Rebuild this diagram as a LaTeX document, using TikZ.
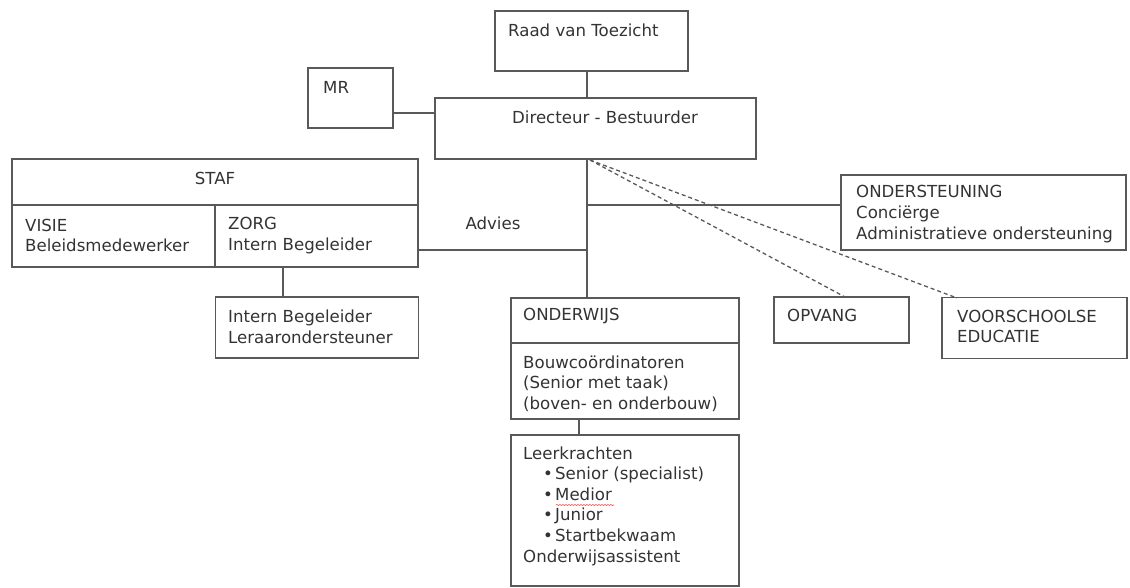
\documentclass[tikz,border=0pt]{standalone}
\usepackage{fontspec}
\setmainfont{DejaVu Sans}
\usetikzlibrary{decorations.pathmorphing}
\newcommand{\fsz}{\fontsize{16.6}{20.6}\selectfont}
\newcommand{\bul}{\hspace*{20pt}\makebox[12pt][l]{•}}
\tikzset{
  box/.style={draw=black!65, line width=1.3pt, inner sep=0pt, minimum width=#1},
  box/.default=10pt,
  txt/.style={inner sep=0pt, align=left, font=\fsz, text=black!80, anchor=west},
  conn/.style={draw=black!65, line width=1.3pt},
  dconn/.style={draw=black!65, line width=1.3pt, dash pattern=on 4pt off 3pt},
}
\begin{document}
\begin{tikzpicture}[x=1pt,y=-1pt]
\useasboundingbox (0,0) rectangle (1130,587);
% boxes (centre, width, height)
\node[box=193pt, minimum height=60pt] (raad) at (591.5,41) {};
\node[box=85pt, minimum height=60pt] (mr) at (350.5,98) {};
\node[box=321pt, minimum height=61pt] (dir) at (595.5,128.5) {};
\node[box=406pt, minimum height=46pt] (staf) at (215,182) {};
\node[box=203pt, minimum height=62pt] (visie) at (113.5,236) {};
\node[box=203pt, minimum height=62pt] (zorg) at (316.5,236) {};
\node[box=203pt, minimum height=61pt] (ib) at (317,327.5) {};
\node[box=228pt, minimum height=45pt] (ondtop) at (625,320.5) {};
\node[box=228pt, minimum height=76pt] (bouw) at (625,381) {};
\node[box=228pt, minimum height=151pt] (leer) at (625,510.5) {};
\node[box=135pt, minimum height=46pt] (opvang) at (841.5,320) {};
\node[box=185pt, minimum height=61pt] (voor) at (1034.5,328) {};
\node[box=285pt, minimum height=75pt] (ondst) at (983.5,212.5) {};
% texts
\node[txt] (traad) at (508,30) {Raad van Toezicht};
\node[txt] (tmr) at (323,87) {MR};
\node[txt, anchor=center] (tdir) at (605,117) {Directeur - Bestuurder};
\node[txt, anchor=center] (tstaf) at (215,178) {STAF};
\node[txt] (tvisie) at (25,235.5) {VISIE\\Beleidsmedewerker};
\node[txt] (tzorg) at (228,235.5) {ZORG\\Intern Begeleider};
\node[txt] (tib) at (228,327) {Intern Begeleider\\Leraarondersteuner};
\node[txt, anchor=center] (tadv) at (493,223) {Advies};
\node[txt] (tond) at (523,316) {ONDERWIJS};
\node[txt] (tbouw) at (523,383.5) {Bouwcoördinatoren\\(Senior met taak)\\(boven- en onderbouw)};
\node[txt] (tleer) at (523,506) {Leerkrachten\\\bul Senior (specialist)\\\bul Medior\\\bul Junior\\\bul Startbekwaam\\Onderwijsassistent};
\node[txt] (topv) at (787,315) {OPVANG};
\node[txt] (tvoor) at (957,326.5) {VOORSCHOOLSE\\EDUCATIE};
\node[txt] (tondst) at (856,214) {ONDERSTEUNING\\Conciërge\\Administratieve ondersteuning};
% spell-check underline
\draw[red!70, line width=0.6pt, decorate, decoration={snake, amplitude=0.6pt, segment length=3pt}] (556,505) -- (614,505);
% connector helpers
\coordinate (trunk) at (587,159);
\coordinate (mry) at (0,113);
\coordinate (advy) at (0,250);
\coordinate (ondy) at (0,205);
\coordinate (zx) at (283,0);
\coordinate (lx) at (579,0);
\coordinate (dstart) at (590,160);
\coordinate (opvtop) at (845,297);
\coordinate (voortop) at (957,298);
% connectors
\draw[conn] (raad.south -| trunk) -- (dir.north -| trunk);
\draw[conn] (mr.east |- mry) -- (dir.west |- mry);
\draw[conn] (dir.south -| trunk) -- (ondtop.north -| trunk);
\draw[conn] (zorg.east |- advy) -- (trunk |- advy);
\draw[conn] (trunk |- ondy) -- (ondst.west |- ondy);
\draw[conn] (zorg.south -| zx) -- (ib.north -| zx);
\draw[conn] (bouw.south -| lx) -- (leer.north -| lx);
\draw[dconn] (dstart) -- (opvtop);
\draw[dconn] (dstart) -- (voortop);
\end{tikzpicture}
\end{document}
